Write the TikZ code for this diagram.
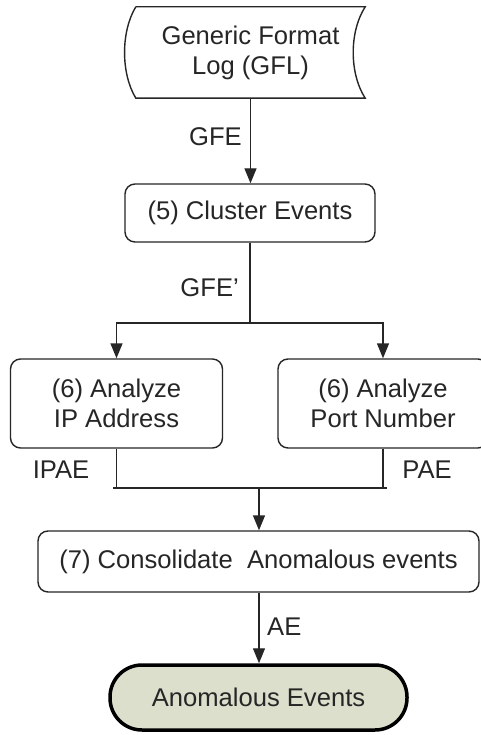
\documentclass[tikz,border=0pt]{standalone}
\usepackage{fontspec}
\setmainfont{Liberation Sans}
\usetikzlibrary{arrows.meta}
\definecolor{ink}{HTML}{262626}
\definecolor{termfill}{HTML}{DCDFCB}
\begin{document}
\begin{tikzpicture}[x=1pt,y=-1pt,
  txt/.style={font=\fontsize{25.6}{30}\selectfont, text=ink, align=center, inner sep=0pt},
  procbox/.style={txt, draw=ink, line width=1.4pt, rounded corners=10pt},
  lbl/.style={txt},
  arr/.style={draw=ink, line width=1.4pt, -{Triangle[length=15pt,width=12pt]}},
  wire/.style={draw=ink, line width=1.4pt}
]
\useasboundingbox (0,0) rectangle (480,735);
\fill[white] (0,0) rectangle (480,735);

% input data store
\node[txt, minimum width=229pt, minimum height=91pt] (gfl) at (250.5,52.5)
  {Generic Format\\Log (GFL)};
\draw[ink, line width=1.4pt]
  (gfl.north west) -- (gfl.north east)
  .. controls ([xshift=-16pt,yshift=-25pt]gfl.north east) and ([xshift=-16pt,yshift=25pt]gfl.south east) .. (gfl.south east)
  -- (gfl.south west)
  .. controls ([xshift=-15pt,yshift=25pt]gfl.south west) and ([xshift=-15pt,yshift=-25pt]gfl.north west) .. (gfl.north west);

% processing steps
\node[procbox, minimum width=250pt, minimum height=58pt] (cluster) at (250,213) {(5) Cluster Events};
\node[procbox, minimum width=212pt, minimum height=89pt] (ipbox) at (116.5,403.5) {(6) Analyze\\IP Address};
\node[procbox, minimum width=210pt, minimum height=89pt] (portbox) at (383,403.5) {(6) Analyze\\Port Number};
\node[procbox, minimum width=441pt, minimum height=61pt] (consol) at (258.5,561.5) {(7) Consolidate\ \ Anomalous events};

% terminal
\node[txt, draw=black, fill=termfill, line width=3.5pt, rounded corners=32pt,
      minimum width=297pt, minimum height=65pt] (term) at (258.5,697.5) {Anomalous Events};

% junction points
\coordinate (split) at (250,323);
\coordinate (merge) at (259,488);

% connectors
\draw[arr] (gfl.south) -- (gfl.south |- cluster.north);
\draw[wire] (cluster.south) -- (split);
\draw[arr] (split) -| (ipbox.north);
\draw[arr] (split) -| (portbox.north);
\draw[wire] (ipbox.south) -- (ipbox.south |- merge);
\draw[wire] (portbox.south) -- (portbox.south |- merge);
\draw[wire] ([xshift=-3.5pt]ipbox.south |- merge) -- ([xshift=3.5pt]portbox.south |- merge);
\draw[arr] (merge) -- (merge |- consol.north);
\draw[arr] (consol.south -| merge) -- (merge |- term.north);

% flow labels
\node[lbl, anchor=east] (gfe) at (242,137) {GFE};
\node[lbl, anchor=east] (gfep) at (239,288) {GFE’};
\node[lbl] (ipae) at (61,470) {IPAE};
\node[lbl] (pae) at (427,470) {PAE};
\node[lbl, anchor=west] (ae) at (267,627) {AE};
\end{tikzpicture}
\end{document}
